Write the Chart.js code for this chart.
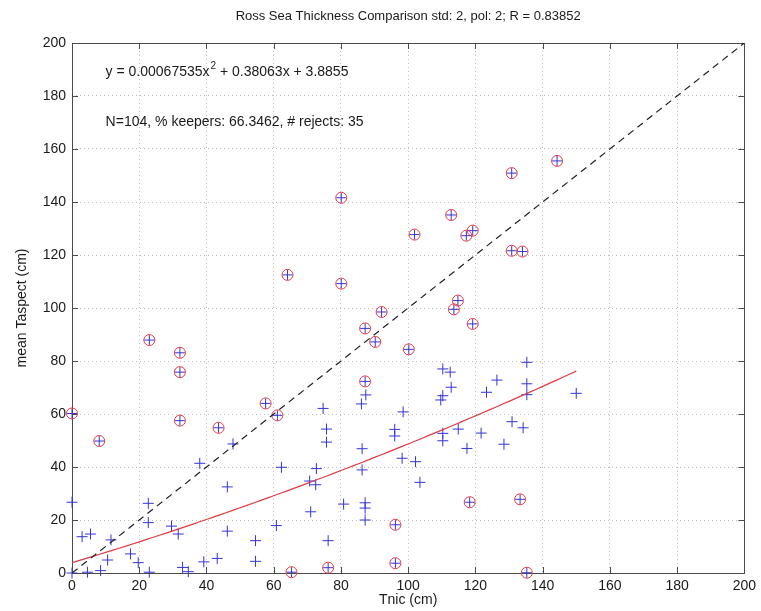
<!DOCTYPE html>
<html>
<head>
<meta charset="utf-8">
<title>Ross Sea Thickness Comparison</title>
<script src="https://cdn.jsdelivr.net/npm/chart.js@4.4.1/dist/chart.umd.min.js"></script>
<style>
  html, body { margin: 0; padding: 0; background: #fff; }
  canvas { display: block; }
</style>
</head>
<body>
<canvas id="myChart" width="761" height="611"></canvas>
<script>
// points kept by the 2-std filter
const keepX = [0, 3.0, 5.5, 11.6, 10.6, 8.5, 4.6, 0, 17.4, 19.7, 23.0, 22.7, 22.7, 29.6, 31.6, 32.9, 34.6, 38.0, 39.2, 43.2, 47.9, 46.2, 46.2, 54.6, 54.6,
  60.8, 62.3, 74.7, 75.7, 75.7, 72.7, 70.7, 72.5, 71.0, 76.2, 80.8, 86.1, 87.4, 86.3, 86.3, 87.2, 87.2, 87.2, 98.5, 96.0, 96.0, 98.2, 102.2, 103.5,
  110.3, 112.5, 112.8, 110.3, 109.7, 110.3, 110.3, 114.9, 117.5, 121.7, 123.3, 126.4, 128.5, 130.9, 134.2, 135.3, 135.3, 135.3, 150.0];
const keepY = [26.7, 13.7, 14.7, 12.5, 4.9, 0.9, 0.3, 0, 7.2, 3.9, 0.3, 26.3, 19.0, 17.7, 14.7, 2.1, 0.5, 41.4, 4.2, 5.5, 48.7, 32.5, 15.8, 12.2, 4.4,
  17.9, 39.9, 62.1, 54.3, 49.4, 39.4, 34.7, 33.3, 23.1, 12.2, 26.0, 63.8, 67.2, 46.9, 38.9, 26.5, 24.5, 20.0, 60.8, 54.2, 51.7, 43.3, 42.0, 34.2,
  77.0, 75.8, 70.1, 66.9, 65.3, 52.7, 49.9, 54.3, 47.0, 52.8, 68.2, 72.8, 48.6, 57.1, 54.8, 79.5, 71.4, 67.3, 67.8];

// rejected points (circled)
const rejX = [0, 8.1, 32.1, 43.6, 23.0, 32.1, 32.1, 64.1, 80.1, 80.1, 101.9, 112.8, 117.3, 119.2, 130.8, 144.3, 130.8, 134.0,
  114.8, 113.6, 119.2, 92.1, 87.2, 90.2, 100.2, 87.2, 57.6, 61.1, 96.2, 96.2, 65.3, 76.2, 118.3, 133.3, 135.3];
const rejY = [60.2, 49.8, 57.5, 54.8, 87.9, 83.1, 75.8, 112.5, 141.6, 109.2, 127.7, 135.1, 127.3, 129.2, 150.9, 155.5, 121.6, 121.3,
  102.8, 99.5, 94.0, 98.5, 92.3, 87.2, 84.4, 72.3, 64.0, 59.5, 18.2, 3.7, 0.3, 2.0, 26.7, 27.8, 0.1];

// quadratic fit y = a*x^2 + b*x + c, drawn over the data range
const fitCoef = [0.00067535, 0.38063, 3.8855];
const fitRange = [0, 150];
const oneToOne = [0, 200];
const axisTicks = [0, 20, 40, 60, 80, 100, 120, 140, 160, 180, 200];

const titleText = 'Ross Sea Thickness Comparison std: 2, pol: 2; R = 0.83852';
const statsText = 'N=104, % keepers: 66.3462, # rejects: 35';

const FONT = "'Liberation Sans', Arial, Helvetica, sans-serif";
const BLUE = '#3434d6';
const RED = '#e23a44';

const toPts = (xs, ys) => xs.map((x, i) => ({ x: x, y: ys[i] }));

let fitPts = [];
for (let x = fitRange[0]; x <= fitRange[1]; x += 2) {
  fitPts.push({ x: x, y: fitCoef[0] * x * x + fitCoef[1] * x + fitCoef[2] });
}

// matlab-ish axes box with inward tick marks + text annotations
const axesBox = {
  id: 'axesBox',
  beforeDatasetsDraw(chart) {
    const { ctx, chartArea: a, scales } = chart;
    const tl = 6;
    ctx.save();
    ctx.strokeStyle = '#4a4a4a';
    ctx.lineWidth = 1;
    ctx.beginPath();
    scales.x.ticks.forEach(t => {
      const px = Math.round(scales.x.getPixelForValue(t.value)) + 0.5;
      ctx.moveTo(px, a.bottom); ctx.lineTo(px, a.bottom - tl);
      ctx.moveTo(px, a.top); ctx.lineTo(px, a.top + tl);
    });
    scales.y.ticks.forEach(t => {
      const py = Math.round(scales.y.getPixelForValue(t.value)) + 0.5;
      ctx.moveTo(a.left, py); ctx.lineTo(a.left + tl, py);
      ctx.moveTo(a.right, py); ctx.lineTo(a.right - tl, py);
    });
    ctx.stroke();
    ctx.strokeRect(Math.round(a.left) + 0.5, Math.round(a.top) + 0.5, Math.round(a.width), Math.round(a.height));
    ctx.restore();
  },
  afterDraw(chart) {
    const { ctx, scales } = chart;
    const x0 = scales.x.getPixelForValue(10);
    const y1 = scales.y.getPixelForValue(189);
    const y2 = scales.y.getPixelForValue(170);
    ctx.save();
    ctx.fillStyle = '#1a1a1a';
    ctx.textBaseline = 'middle';
    ctx.textAlign = 'left';
    ctx.font = '14px ' + FONT;
    let s1 = 'y = ' + fitCoef[0] + 'x';
    ctx.fillText(s1, x0, y1);
    let w = ctx.measureText(s1).width;
    ctx.font = '10px ' + FONT;
    ctx.fillText('2', x0 + w + 1, y1 - 6);
    let w2 = ctx.measureText('2').width;
    ctx.font = '14px ' + FONT;
    ctx.fillText(' + ' + fitCoef[1] + 'x + ' + fitCoef[2], x0 + w + w2 + 1, y1);
    ctx.fillText(statsText, x0, y2);
    ctx.restore();
  }
};

const gridOpts = { color: '#bdbdbd', lineWidth: 1, drawTicks: false };
const borderOpts = { display: false, dash: [1, 3] };

var ctx = document.getElementById('myChart');
var myChart = new Chart(ctx, {
  type: 'scatter',
  data: {
    datasets: [
      {
        label: '1:1',
        type: 'line',
        data: toPts(oneToOne, oneToOne),
        borderColor: '#222',
        borderWidth: 1.2,
        borderDash: [7, 5],
        pointRadius: 0,
        fill: false
      },
      {
        label: 'fit',
        type: 'line',
        data: fitPts,
        borderColor: RED,
        borderWidth: 1.2,
        pointRadius: 0,
        tension: 0,
        fill: false
      },
      {
        label: 'rejects',
        data: toPts(rejX, rejY),
        pointStyle: 'circle',
        radius: 5.5,
        backgroundColor: 'rgba(0,0,0,0)',
        borderColor: RED,
        borderWidth: 1,
        clip: false
      },
      {
        label: 'rejects +',
        data: toPts(rejX, rejY),
        pointStyle: 'cross',
        radius: 5,
        borderColor: BLUE,
        borderWidth: 1,
        clip: false
      },
      {
        label: 'keepers',
        data: toPts(keepX, keepY),
        pointStyle: 'cross',
        radius: 5.5,
        borderColor: BLUE,
        borderWidth: 1,
        clip: false
      }
    ]
  },
  options: {
    responsive: false,
    animation: false,
    events: [],
    layout: { padding: { top: 0, right: 16, bottom: 0, left: 0 } },
    plugins: {
      legend: { display: false },
      tooltip: { enabled: false },
      title: {
        display: true,
        fullSize: false,
        text: titleText,
        color: '#1a1a1a',
        font: { family: FONT, size: 13, weight: 'normal', lineHeight: 1.2 },
        padding: { top: 9, bottom: 18.4 }
      }
    },
    scales: {
      x: {
        type: 'linear',
        min: 0,
        max: 200,
        afterBuildTicks: (s) => { s.ticks = axisTicks.map(v => ({ value: v })); },
        afterFit: (s) => { s.height = 38; },
        grid: gridOpts,
        border: borderOpts,
        ticks: { color: '#1a1a1a', padding: 5, maxRotation: 0, font: { family: FONT, size: 14 } },
        title: {
          display: true,
          text: 'Tnic (cm)',
          color: '#1a1a1a',
          font: { family: FONT, size: 14 },
          padding: { top: 0, bottom: 2 }
        }
      },
      y: {
        type: 'linear',
        min: 0,
        max: 200,
        afterBuildTicks: (s) => { s.ticks = axisTicks.map(v => ({ value: v })); },
        afterFit: (s) => { s.width = 72; },
        grid: gridOpts,
        border: borderOpts,
        ticks: { color: '#1a1a1a', padding: 6, font: { family: FONT, size: 14 } },
        title: {
          display: true,
          text: 'mean Taspect (cm)',
          color: '#1a1a1a',
          font: { family: FONT, size: 14 },
          padding: { top: 14, bottom: 0 }
        }
      }
    }
  },
  plugins: [axesBox]
});
</script>
</body>
</html>
